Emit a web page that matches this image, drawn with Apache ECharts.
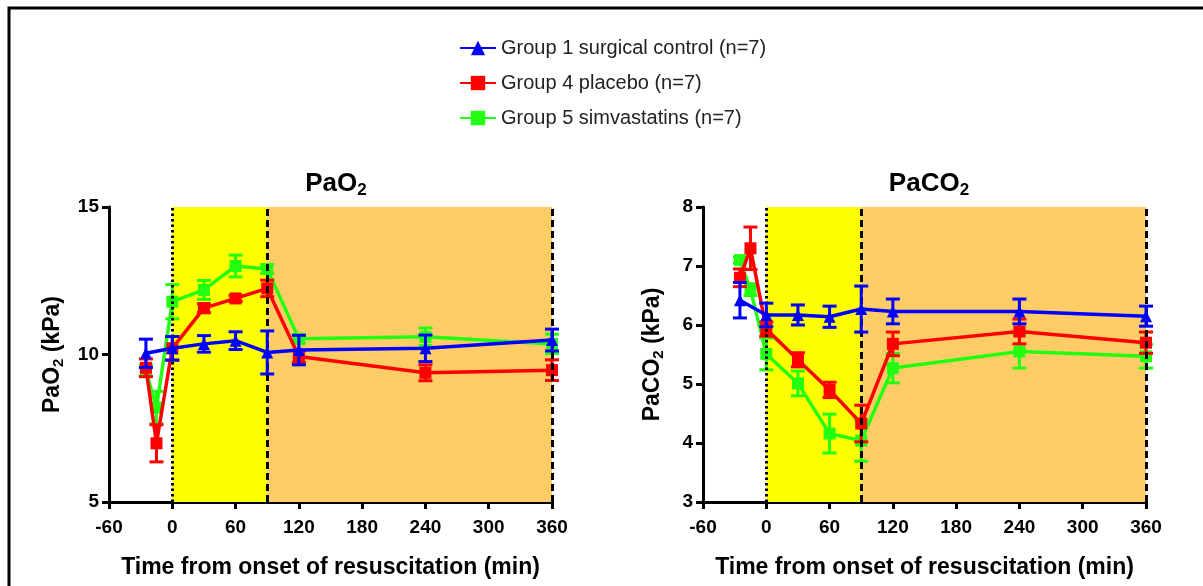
<!DOCTYPE html>
<html>
<head>
<meta charset="utf-8">
<script src="https://cdn.jsdelivr.net/npm/echarts@6/dist/echarts.min.js"></script>
<style>html,body{margin:0;padding:0;background:#fff}#c{width:1203px;height:586px}</style>
</head>
<body>
<div id="c"></div>
<script>
// ---- data ----
const times = [-25, -15, 0, 30, 60, 90, 120, 240, 360];
const xTicks = [-60, 0, 60, 120, 180, 240, 300, 360];
const seriesNames = ['Group 1 surgical control (n=7)', 'Group 4 placebo (n=7)', 'Group 5 simvastatins (n=7)'];

const pao2Blue = [10.04, null, 10.21, 10.36, 10.47, 10.07, 10.15, 10.21, 10.49];
const pao2BlueErr = [0.48, null, 0.4, 0.28, 0.3, 0.73, 0.5, 0.45, 0.37];
const pao2Red = [9.55, 6.99, 10.21, 11.57, 11.9, 12.24, 9.93, 9.38, 9.47];
const pao2RedErr = [0.3, 0.63, 0.4, 0.15, 0.1, 0.28, 0.2, 0.27, 0.35];
const pao2Green = [9.45, 8.2, 11.79, 12.19, 13.0, 12.9, 10.53, 10.6, 10.36];
const pao2GreenErr = [0.2, 0.55, 0.58, 0.32, 0.37, 0.15, 0.15, 0.3, 0.33];

const paco2Blue = [6.42, null, 6.17, 6.17, 6.14, 6.27, 6.23, 6.23, 6.15];
const paco2BlueErr = [0.3, null, 0.2, 0.17, 0.18, 0.39, 0.21, 0.21, 0.17];
const paco2Red = [6.8, 7.3, 5.93, 5.41, 4.9, 4.33, 5.68, 5.89, 5.7];
const paco2RedErr = [0.15, 0.36, 0.12, 0.12, 0.13, 0.31, 0.2, 0.21, 0.18];
const paco2Green = [7.1, 6.6, 5.51, 5.01, 4.16, 4.04, 5.27, 5.55, 5.47];
const paco2GreenErr = [0.05, 0.1, 0.27, 0.21, 0.33, 0.35, 0.25, 0.28, 0.2];

const phaseBounds = [0, 90, 360];
// ---------------

const BLUE = '#0000ff', RED = '#ff0000', GREEN = '#22ff11';
const YELLOW = '#ffff00', ORANGE = '#ffcc66';
const FONT = 'Liberation Sans, Arial, sans-serif';

function pts(vals) { return times.map((t, i) => vals[i] == null ? null : [t, vals[i]]).filter(p => p); }
function errPts(vals, errs) { return times.map((t, i) => vals[i] == null ? null : [t, vals[i], errs[i]]).filter(p => p); }

function errSeries(name, vals, errs, color, g, z) {
  return {
    type: 'custom', name: name + ' err', xAxisIndex: g, yAxisIndex: g, z: z,
    data: errPts(vals, errs),
    renderItem: function (params, api) {
      const x = api.value(0), y = api.value(1), e = api.value(2);
      const a = api.coord([x, y + e]), b = api.coord([x, y - e]);
      const hw = 7;
      const st = { stroke: color, lineWidth: 3 };
      return { type: 'group', children: [
        { type: 'line', shape: { x1: a[0], y1: a[1], x2: b[0], y2: b[1] }, style: st },
        { type: 'line', shape: { x1: a[0] - hw, y1: a[1], x2: a[0] + hw, y2: a[1] }, style: st },
        { type: 'line', shape: { x1: b[0] - hw, y1: b[1], x2: b[0] + hw, y2: b[1] }, style: st }
      ]};
    }
  };
}
function lineSeries(name, vals, color, symbol, g, z) {
  return {
    type: 'line', name: name, xAxisIndex: g, yAxisIndex: g, z: z,
    data: pts(vals), connectNulls: true,
    symbol: symbol, symbolSize: 12,
    lineStyle: { color: color, width: 3.5 }, itemStyle: { color: color },
    emphasis: { disabled: true }
  };
}
function bgSeries(g) {
  return {
    type: 'line', name: 'bg' + g, xAxisIndex: g, yAxisIndex: g, z: 1, data: [], silent: true,
    markArea: { silent: true, data: [
      [{ xAxis: phaseBounds[0], itemStyle: { color: YELLOW } }, { xAxis: phaseBounds[1] }],
      [{ xAxis: phaseBounds[1], itemStyle: { color: ORANGE } }, { xAxis: phaseBounds[2] }]
    ]},
    markLine: { silent: true, symbol: 'none', label: { show: false }, data: [
      { xAxis: phaseBounds[0], lineStyle: { color: '#000', width: 3, type: [2.5, 3] } },
      { xAxis: phaseBounds[1], lineStyle: { color: '#000', width: 3, type: [7, 4] } },
      { xAxis: phaseBounds[2], lineStyle: { color: '#000', width: 3, type: [7, 4] } }
    ]}
  };
}

const axisFont = { color: '#000', fontWeight: 'bold', fontSize: 19, fontFamily: FONT };
function xAxis(g) {
  return {
    type: 'value', gridIndex: g, min: -60, max: 360, interval: 60,
    axisLine: { onZero: false, lineStyle: { color: '#000', width: 3 } },
    axisTick: { length: 7, lineStyle: { color: '#000', width: 3 } },
    axisLabel: Object.assign({ margin: 16 }, axisFont),
    splitLine: { show: false },
    name: 'Time from onset of resuscitation (min)', nameLocation: 'middle', nameGap: 54,
    nameTextStyle: { color: '#000', fontWeight: 'bold', fontSize: 23, fontFamily: FONT }
  };
}
function yAxis(g, min, max, interval, nm) {
  return {
    type: 'value', gridIndex: g, min: min, max: max, interval: interval,
    axisLine: { show: true, onZero: false, lineStyle: { color: '#000', width: 3 } },
    axisTick: { show: true, length: 7, lineStyle: { color: '#000', width: 3 } },
    axisLabel: Object.assign({ margin: 10 }, axisFont),
    splitLine: { show: false },
    name: '{a|' + nm + '}{s|2}{a| (kPa)}', nameLocation: 'middle', nameRotate: 90, nameGap: g === 0 ? 43 : 37,
    nameTextStyle: { rich: {
      a: { color: '#000', fontWeight: 'bold', fontSize: 23, fontFamily: FONT },
      s: { color: '#000', fontWeight: 'bold', fontSize: 15, fontFamily: FONT, padding: [12, 0, 0, 0] }
    }}
  };
}
function titleOf(txt, cx) {
  return {
    text: '{a|' + txt + '}{s|2}', left: cx, top: 164, textAlign: 'center',
    textStyle: { rich: {
      a: { color: '#000', fontWeight: 'bold', fontSize: 26, fontFamily: FONT },
      s: { color: '#000', fontWeight: 'bold', fontSize: 17, fontFamily: FONT, padding: [13, 0, 0, 0] }
    }}
  };
}

const option = {
  animation: false,
  backgroundColor: '#fff',
  title: [titleOf('PaO', 331), titleOf('PaCO', 924)],
  legend: {
    data: seriesNames, orient: 'vertical', left: 454, top: 33, itemGap: 15,
    itemWidth: 36, itemHeight: 18, itemStyle: {},
    textStyle: { color: '#222', fontSize: 20, fontFamily: FONT }
  },
  grid: [
    { left: 109, top: 207, width: 443, height: 295 },
    { left: 703, top: 207, width: 443, height: 295 }
  ],
  xAxis: [xAxis(0), xAxis(1)],
  yAxis: [yAxis(0, 5, 15, 5, 'PaO'), yAxis(1, 3, 8, 1, 'PaCO')],
  graphic: [
    { type: 'polyline', shape: { points: [[9, 586], [9, 8], [1203, 8]] }, style: { stroke: '#000', lineWidth: 3, fill: null } }
  ],
  series: [
    bgSeries(0), bgSeries(1),
    errSeries(seriesNames[2], pao2Green, pao2GreenErr, GREEN, 0, 3),
    lineSeries(seriesNames[2], pao2Green, GREEN, 'rect', 0, 3),
    errSeries(seriesNames[1], pao2Red, pao2RedErr, RED, 0, 4),
    lineSeries(seriesNames[1], pao2Red, RED, 'rect', 0, 4),
    errSeries(seriesNames[0], pao2Blue, pao2BlueErr, BLUE, 0, 5),
    lineSeries(seriesNames[0], pao2Blue, BLUE, 'triangle', 0, 5),
    errSeries(seriesNames[2], paco2Green, paco2GreenErr, GREEN, 1, 3),
    lineSeries(seriesNames[2], paco2Green, GREEN, 'rect', 1, 3),
    errSeries(seriesNames[1], paco2Red, paco2RedErr, RED, 1, 4),
    lineSeries(seriesNames[1], paco2Red, RED, 'rect', 1, 4),
    errSeries(seriesNames[0], paco2Blue, paco2BlueErr, BLUE, 1, 5),
    lineSeries(seriesNames[0], paco2Blue, BLUE, 'triangle', 1, 5)
  ]
};
echarts.init(document.getElementById('c'), null, { renderer: 'canvas' }).setOption(option);
</script>
</body>
</html>
